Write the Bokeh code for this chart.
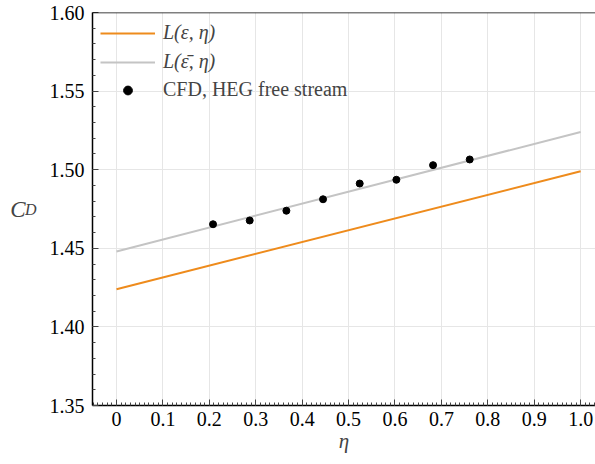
from bokeh.plotting import figure
from bokeh.models import (Range1d, FixedTicker, PrintfTickFormatter, Legend, LegendItem,
                          LinearAxis, Span)
from bokeh.embed import file_html
from bokeh.resources import INLINE
import numpy as np

# ---- data ----
eta_line = [0.0, 1.0]
cd_L_eps = [1.424, 1.499]
cd_L_epsbar = [1.448, 1.524]

eta_cfd = [0.208, 0.287, 0.366, 0.445, 0.524, 0.603, 0.682, 0.761]
cd_cfd = [1.4653, 1.4677, 1.4739, 1.4812, 1.4912, 1.4936, 1.5029, 1.5065]

x_ticks = [0.0, 0.1, 0.2, 0.3, 0.4, 0.5, 0.6, 0.7, 0.8, 0.9, 1.0]
y_ticks = [1.35, 1.40, 1.45, 1.50, 1.55, 1.60]

label_L_eps = "L(ε, η)"
label_L_epsbar = "L(ε\u0304, η)"
label_cfd = "CFD, HEG free stream"

FONT = "Liberation Serif"
ORANGE = "#EE8B1C"
GREY = "#C4C4C4"

p = figure(width=595, height=464, output_backend="svg", toolbar_location=None,
           x_range=Range1d(-0.0517, 1.032), y_range=Range1d(1.35, 1.60),
           min_border_left=92, min_border_right=0, min_border_top=12, min_border_bottom=59)
p.outline_line_color = None
p.background_fill_color = "white"
p.border_fill_color = "white"

# lines and points
r1 = p.line(eta_line, cd_L_eps, line_color=ORANGE, line_width=2)
r2 = p.line(eta_line, cd_L_epsbar, line_color=GREY, line_width=2)
r3 = p.scatter(eta_cfd, cd_cfd, size=7, fill_color="black", line_color="black")

# axes
xminor = [round(v, 2) for v in np.arange(-0.05, 1.035, 0.01)]
yminor = [round(v, 2) for v in np.arange(1.35, 1.601, 0.01)]
p.xaxis.ticker = FixedTicker(ticks=x_ticks, minor_ticks=xminor)
p.yaxis.ticker = FixedTicker(ticks=y_ticks, minor_ticks=yminor)
p.xaxis.formatter = PrintfTickFormatter(format="%.1f")
p.xaxis.major_label_overrides = {0: "0"}
p.yaxis.formatter = PrintfTickFormatter(format="%.2f")

for ax in (p.xaxis[0], p.yaxis[0]):
    ax.axis_line_color = "black"
    ax.axis_line_width = 1.5
    ax.major_tick_in = 6
    ax.major_tick_out = 0
    ax.minor_tick_in = 3
    ax.minor_tick_out = 0
    ax.major_tick_line_color = "#444444"
    ax.minor_tick_line_color = "#444444"
    ax.major_label_text_font = FONT
    ax.major_label_text_font_size = "20px"
    ax.major_label_text_color = "black"

p.xaxis.major_label_standoff = 6
p.yaxis.major_label_standoff = 8
p.xaxis.axis_label = "η"
p.xaxis.axis_label_text_font = FONT
p.xaxis.axis_label_text_font_style = "italic"
p.xaxis.axis_label_text_font_size = "21px"
p.xaxis.axis_label_standoff = 0

# y label C_D: subscript "D" on the main axis, "C" on an outer bare axis
p.yaxis.axis_label = "D"
p.yaxis.axis_label_orientation = "horizontal"
p.yaxis.axis_label_text_font = FONT
p.yaxis.axis_label_text_font_style = "italic"
p.yaxis.axis_label_text_font_size = "16px"
p.yaxis.axis_label_standoff = 10

outer = LinearAxis(ticker=FixedTicker(ticks=[]), axis_line_color=None,
                   major_tick_line_color=None, minor_tick_line_color=None,
                   major_tick_in=0, major_tick_out=0, minor_tick_in=0, minor_tick_out=0,
                   major_label_standoff=0, axis_label="C", axis_label_orientation="horizontal",
                   axis_label_text_font=FONT, axis_label_text_font_style="italic",
                   axis_label_text_font_size="23px", axis_label_standoff=-4)
p.add_layout(outer, "left")

# top border
p.add_layout(Span(location=1.60, dimension="width", line_color="black", line_width=1.5))

p.xgrid.ticker = FixedTicker(ticks=x_ticks)
p.ygrid.ticker = FixedTicker(ticks=y_ticks)
p.grid.grid_line_color = "#E6E6E6"
p.grid.grid_line_width = 1

# legends
leg1 = Legend(items=[LegendItem(label=label_L_eps, renderers=[r1]),
                     LegendItem(label=label_L_epsbar, renderers=[r2])],
              location=(8, 332))
leg2 = Legend(items=[LegendItem(label=label_cfd, renderers=[r3])], location=(8, 304))
for lg, style in ((leg1, "italic"), (leg2, "normal")):
    lg.label_text_font = FONT
    lg.label_text_font_style = style
    lg.label_text_font_size = "20px"
    lg.glyph_width = 55
    lg.glyph_height = 22
    lg.label_height = 22
    lg.spacing = 6
    lg.padding = 0
    lg.margin = 0
    lg.label_standoff = 8
    lg.border_line_color = None
    lg.background_fill_alpha = 0
    p.add_layout(lg, "center")

open("out.html", "w").write(file_html(p, INLINE))
